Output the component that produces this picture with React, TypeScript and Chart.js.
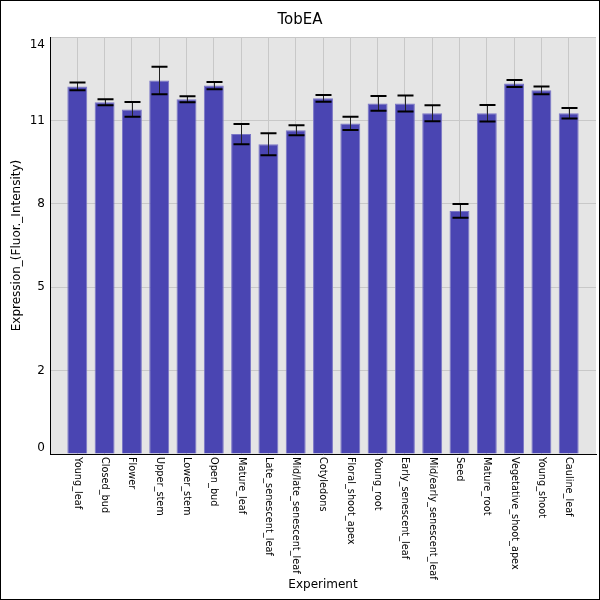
import { useEffect, useRef } from 'react';
import { Chart, registerables } from 'chart.js';

Chart.register(...registerables);

const chartTitle = 'TobEA';
const xAxisTitle = 'Experiment';
const yAxisTitle = 'Expression_(Fluor._Intensity)';

const experiments = [
  'Young_leaf',
  'Closed_bud',
  'Flower',
  'Upper_stem',
  'Lower_stem',
  'Open_bud',
  'Mature_leaf',
  'Late_senescent_leaf',
  'Mid/late_senescent_leaf',
  'Cotyledons',
  'Floral_shoot_apex',
  'Young_root',
  'Early_senescent_leaf',
  'Mid/early_senescent_leaf',
  'Seed',
  'Mature_root',
  'Vegetative_shoot_apex',
  'Young_shoot',
  'Cauline_leaf',
];

const expression = [
  12.34, 11.81, 11.57, 12.54, 11.91, 12.37, 10.74, 10.4, 10.87, 11.94,
  11.1, 11.77, 11.77, 11.44, 8.16, 11.44, 12.44, 12.21, 11.44,
];

// half-length of each error bar
const errors = [
  0.13, 0.1, 0.25, 0.46, 0.1, 0.12, 0.34, 0.37, 0.17, 0.11,
  0.22, 0.25, 0.27, 0.27, 0.23, 0.28, 0.12, 0.13, 0.18,
];

const yTicks = [0, 2.8, 5.6, 8.4, 11.2, 14];

const FONT = '"DejaVu Sans", sans-serif';

// background, error bars, rotated labels and titles
const decorPlugin = {
  id: 'decor',
  beforeDraw(chart: any) {
    const { ctx, chartArea: a } = chart;
    ctx.save();
    ctx.fillStyle = '#ffffff';
    ctx.fillRect(0, 0, chart.width, chart.height);
    ctx.fillStyle = '#e5e5e5';
    ctx.fillRect(a.left, a.top, a.right - a.left, a.bottom - a.top);
    ctx.restore();
  },
  afterDraw(chart: any) {
    const { ctx, chartArea: a, scales } = chart;
    const xs = scales.x;
    const ys = scales.y;
    ctx.save();

    // error bars
    const meta = chart.getDatasetMeta(0);
    meta.data.forEach((bar: any, i: number) => {
      const cx = Math.round(bar.x) + 0.5;
      const hi = ys.getPixelForValue(expression[i] + errors[i]);
      const lo = ys.getPixelForValue(expression[i] - errors[i]);
      const half = 8;
      ctx.strokeStyle = '#222';
      ctx.lineWidth = 1;
      ctx.beginPath();
      ctx.moveTo(cx, hi);
      ctx.lineTo(cx, lo);
      ctx.stroke();
      ctx.strokeStyle = '#000';
      ctx.lineWidth = 2;
      ctx.beginPath();
      ctx.moveTo(cx - half, hi);
      ctx.lineTo(cx + half, hi);
      ctx.moveTo(cx - half, lo);
      ctx.lineTo(cx + half, lo);
      ctx.stroke();
    });

    ctx.fillStyle = '#000';

    // category labels, reading top to bottom
    ctx.font = `9.75px ${FONT}`;
    ctx.textAlign = 'left';
    ctx.textBaseline = 'middle';
    experiments.forEach((name, i) => {
      const px = xs.getPixelForValue(i + 1);
      ctx.save();
      ctx.translate(px, a.bottom + 3);
      ctx.rotate(Math.PI / 2);
      ctx.fillText(name, 0, 0);
      ctx.restore();
    });

    // y tick labels (kept inside the plot's height)
    ctx.font = `12px ${FONT}`;
    ctx.textAlign = 'right';
    yTicks.forEach((v) => {
      const py = Math.min(Math.max(ys.getPixelForValue(v), a.top + 8), a.bottom - 6);
      ctx.fillText(String(Math.floor(v)), a.left - 5, py);
    });

    // titles
    ctx.textAlign = 'center';
    ctx.font = `15px ${FONT}`;
    ctx.fillText(chartTitle, chart.width / 2, 20);
    ctx.font = `12px ${FONT}`;
    ctx.fillText(xAxisTitle, (a.left + a.right) / 2, 585);
    ctx.save();
    ctx.translate(17, (a.top + a.bottom) / 2);
    ctx.rotate(-Math.PI / 2);
    ctx.fillText(yAxisTitle, 0, 0);
    ctx.restore();

    // outer frame
    ctx.strokeStyle = '#000';
    ctx.lineWidth = 1;
    ctx.strokeRect(0.5, 0.5, chart.width - 1, chart.height - 1);
    ctx.restore();
  },
};

export default function App() {
  const canvasRef = useRef<HTMLCanvasElement>(null);
  const chartInstance = useRef<Chart | null>(null);

  useEffect(() => {
    if (!canvasRef.current) return;
    const ctx = canvasRef.current.getContext('2d');
    if (!ctx) return;

    chartInstance.current = new Chart(ctx, {
      type: 'bar',
      data: {
        datasets: [
          {
            data: expression.map((v, i) => ({ x: i + 1, y: v })),
            backgroundColor: '#4a45b2',
            borderColor: '#7a76c6',
            borderWidth: 1,
            categoryPercentage: 1,
            barPercentage: 0.73,
          },
        ],
      },
      options: {
        responsive: true,
        maintainAspectRatio: false,
        animation: false,
        layout: { padding: { top: 37, left: 50, right: 4, bottom: 146 } },
        plugins: {
          legend: { display: false },
          tooltip: { enabled: false },
          title: { display: false },
        },
        scales: {
          x: {
            type: 'linear',
            min: 0,
            max: experiments.length + 1,
            offset: false,
            afterBuildTicks: (scale: any) => {
              scale.ticks = experiments.map((_, i) => ({ value: i + 1 }));
            },
            afterFit: (scale: any) => {
              scale.height = 0;
            },
            ticks: { display: false },
            grid: { color: '#c8c8c8', drawTicks: false, lineWidth: 1, offset: false },
            border: { display: true, color: '#000', width: 1 },
          },
          y: {
            min: 0,
            max: 14,
            afterBuildTicks: (scale: any) => {
              scale.ticks = yTicks.map((v) => ({ value: v }));
            },
            afterFit: (scale: any) => {
              scale.width = 0;
            },
            ticks: { display: false },
            grid: { color: '#c8c8c8', drawTicks: false, lineWidth: 1 },
            border: { display: true, color: '#000', width: 1 },
          },
        },
      },
      plugins: [decorPlugin],
    });

    return () => {
      if (chartInstance.current) {
        chartInstance.current.destroy();
        chartInstance.current = null;
      }
    };
  }, []);

  return (
    <div style={{ position: 'fixed', left: 0, top: 0, width: 600, height: 600 }}>
      <canvas ref={canvasRef} />
    </div>
  );
}
